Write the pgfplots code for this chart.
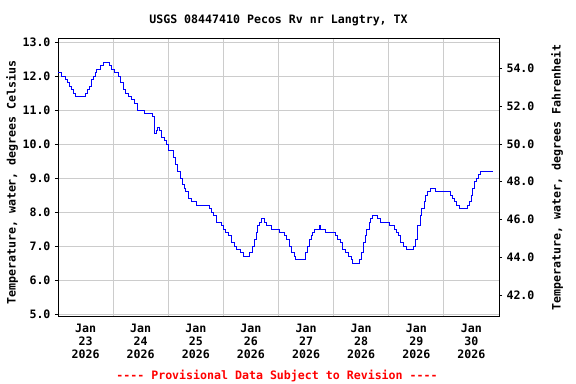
\documentclass[border=0pt]{standalone}
\usepackage{fontspec}
\setmainfont{DejaVu Sans Mono}
\usepackage{pgfplots}
\usepackage{pgfplotstable}
\pgfplotsset{compat=1.18}
\definecolor{usgsblue}{RGB}{0,0,255}
\definecolor{gridgray}{RGB}{204,204,204}
\newcommand{\uf}{\fontsize{11.6bp}{13bp}\selectfont\bfseries}

\pgfplotstableread{
d v
0.005 12.1
0.067 12.0
0.127 11.9
0.169 11.8
0.200 11.7
0.236 11.6
0.278 11.5
0.308 11.4
0.490 11.5
0.532 11.6
0.568 11.7
0.611 11.9
0.640 12.0
0.684 12.1
0.702 12.2
0.775 12.3
0.822 12.4
0.931 12.3
0.961 12.2
1.021 12.1
1.094 12.0
1.125 11.8
1.185 11.6
1.228 11.5
1.275 11.4
1.324 11.3
1.379 11.2
1.439 11.0
1.566 10.9
1.718 10.8
1.747 10.3
1.778 10.4
1.809 10.5
1.832 10.4
1.881 10.2
1.923 10.1
1.959 10.0
2.001 9.8
2.092 9.6
2.135 9.4
2.171 9.2
2.213 9.0
2.262 8.8
2.290 8.7
2.317 8.6
2.364 8.4
2.425 8.3
2.516 8.2
2.739 8.1
2.788 8.0
2.817 7.9
2.879 7.7
2.957 7.6
2.999 7.5
3.042 7.4
3.089 7.3
3.151 7.1
3.198 7.0
3.242 6.9
3.302 6.8
3.361 6.7
3.474 6.8
3.525 7.0
3.561 7.2
3.592 7.4
3.623 7.6
3.652 7.7
3.688 7.8
3.742 7.7
3.773 7.6
3.877 7.5
4.015 7.4
4.105 7.3
4.149 7.2
4.196 7.0
4.240 6.8
4.281 6.7
4.312 6.6
4.493 6.8
4.530 7.0
4.559 7.2
4.590 7.3
4.620 7.4
4.649 7.5
4.735 7.6
4.753 7.5
4.844 7.4
5.025 7.3
5.067 7.2
5.116 7.1
5.165 6.9
5.206 6.8
5.266 6.7
5.328 6.6
5.346 6.5
5.466 6.6
5.497 6.8
5.538 7.1
5.569 7.3
5.600 7.5
5.642 7.7
5.673 7.8
5.709 7.9
5.792 7.8
5.854 7.7
6.010 7.6
6.095 7.5
6.132 7.4
6.173 7.3
6.217 7.1
6.264 7.0
6.326 6.9
6.445 7.0
6.489 7.2
6.525 7.6
6.567 7.9
6.598 8.1
6.639 8.3
6.670 8.5
6.699 8.6
6.761 8.7
6.839 8.6
7.124 8.5
7.160 8.4
7.189 8.3
7.233 8.2
7.280 8.1
7.432 8.2
7.461 8.3
7.492 8.5
7.523 8.7
7.552 8.9
7.583 9.0
7.624 9.1
7.655 9.2
7.886 9.2
}\tempdata

\begin{document}
\begin{tikzpicture}
\begin{axis}[
  at={(0,0)}, anchor=south west,
  scale only axis, width=441bp, height=277bp,
  xmin=0, xmax=8, ymin=4.9412, ymax=13.0882,
  axis line style={line width=1bp, black},
  grid=major,
  major grid style={line width=0.9bp, gridgray},
  xtick={1,2,3,4,5,6,7},
  xticklabels={},
  xtick style={/pgfplots/major tick length=0pt},
  extra x ticks={0.5,1.5,2.5,3.5,4.5,5.5,6.5,7.5},
  extra x tick labels={{Jan\\23\\2026},{Jan\\24\\2026},{Jan\\25\\2026},{Jan\\26\\2026},{Jan\\27\\2026},{Jan\\28\\2026},{Jan\\29\\2026},{Jan\\30\\2026}},
  extra x tick style={grid=none, /pgfplots/major tick length=0pt,
    xticklabel style={align=center, font=\uf, yshift=-5bp}},
  ytick={5,6,...,13},
  ytick pos=left,
  tick align=outside,
  major tick length=3bp,
  ytick style={line width=0.8bp, black},
  yticklabel style={font=\uf, xshift=-1bp, /pgf/number format/.cd, fixed, fixed zerofill, precision=1, assume math mode=true},
  clip=true,
]
\addplot[const plot, line width=0.9bp, usgsblue] table[x=d, y=v] {\tempdata};
\end{axis}
\begin{axis}[
  at={(0,0)}, anchor=south west,
  scale only axis, width=441bp, height=277bp,
  xmin=0, xmax=8, ymin=40.894, ymax=55.559,
  axis x line=none,
  axis y line*=right,
  axis line style={line width=1bp, black, -},
  ytick={42,44,...,54},
  tick align=outside,
  major tick length=3bp,
  ytick style={line width=0.8bp, black},
  yticklabel style={font=\uf, xshift=1bp, /pgf/number format/.cd, fixed, fixed zerofill, precision=1, assume math mode=true},
]
\addplot[draw=none] coordinates {(0,45)};
\end{axis}
\node[font=\uf, anchor=base] at (220.5bp,292bp) {USGS 08447410 Pecos Rv nr Langtry, TX};
\node[font=\uf, rotate=90, anchor=center] at (-46bp,133.5bp) {Temperature, water, degrees Celsius};
\node[font=\uf, rotate=90, anchor=center] at (499bp,138.5bp) {Temperature, water, degrees Fahrenheit};
\node[font=\uf, anchor=base, text=red] at (219bp,-63bp) {-{}-{}-{}- Provisional Data Subject to Revision -{}-{}-{}-};
\pgfresetboundingbox
\useasboundingbox (-58bp,-68bp) rectangle (518bp,316bp);
\end{tikzpicture}
\end{document}
